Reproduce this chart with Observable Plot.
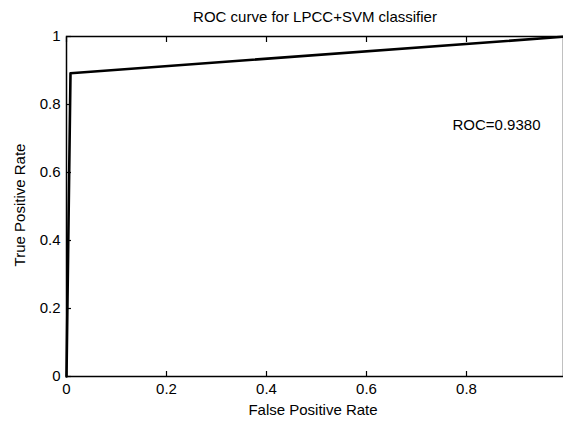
<!DOCTYPE html>
<html>
<head>
<meta charset="utf-8">
<script src="https://cdn.jsdelivr.net/npm/d3@7"></script>
<script src="https://cdn.jsdelivr.net/npm/@observablehq/plot@0.6"></script>
<style>
  html, body { margin: 0; padding: 0; background: #fff; }
  #chart { width: 563px; height: 422px; }
  svg { font-family: "Liberation Sans", Arial, sans-serif; }
</style>
</head>
<body>
<div id="chart"></div>
<script>
// ROC curve points
const fpr = [0, 0.008, 1.0];
const tpr = [0, 0.892, 1.0];
const xTicks = [0, 0.2, 0.4, 0.6, 0.8];
const yTicks = [0, 0.2, 0.4, 0.6, 0.8, 1];
const titleText = "ROC curve for LPCC+SVM classifier";
const xLabel = "False Positive Rate";
const yLabel = "True Positive Rate";
const rocLabel = "ROC=0.9380";
const rocLabelPos = [0.948, 0.74];

const data = fpr.map((x, i) => ({x, y: tpr[i]}));
const FS = 15;

const chart = Plot.plot({
  width: 563,
  height: 422,
  marginLeft: 66,
  marginTop: 36,
  marginBottom: 46,
  marginRight: 0,
  style: {fontSize: FS + "px", fontFamily: "Liberation Sans, Arial, sans-serif", color: "#000", background: "#fff"},
  x: {domain: [0, 0.994]},
  y: {domain: [0, 1]},
  marks: [
    // inward ticks
    Plot.axisX({anchor: "bottom", ticks: xTicks, tickSize: -5, tickFormat: () => "", stroke: "#000", strokeWidth: 1.2, label: null}),
    Plot.axisX({anchor: "top", ticks: xTicks, tickSize: -5, tickFormat: () => "", stroke: "#000", strokeWidth: 1.2, label: null}),
    Plot.axisY({anchor: "left", ticks: yTicks, tickSize: -5, tickFormat: () => "", stroke: "#000", strokeWidth: 1.2, label: null}),
    // labels
    Plot.axisX({anchor: "bottom", ticks: xTicks, tickSize: 0, tickPadding: 7, tickFormat: d => String(d), fill: "#000", label: null}),
    Plot.axisY({anchor: "left", ticks: yTicks, tickSize: 0, tickPadding: 6, tickFormat: d => String(d), fill: "#000", label: null}),
    Plot.frame({stroke: "#000", strokeWidth: 1.5}),
    Plot.line(data, {x: "x", y: "y", stroke: "#000", strokeWidth: 2.6, clip: false}),
    Plot.text([rocLabel], {x: () => rocLabelPos[0], y: () => rocLabelPos[1], text: d => d, textAnchor: "end", fill: "#000", fontSize: FS})
  ]
});

// title & axis labels as real SVG text
const svg = d3.select(chart);
svg.append("text").attr("x", 315).attr("y", 18).attr("text-anchor", "middle").attr("dominant-baseline", "middle")
  .attr("font-size", FS).attr("fill", "#000").text(titleText);
svg.append("text").attr("x", 313).attr("y", 411).attr("text-anchor", "middle").attr("dominant-baseline", "middle")
  .attr("font-size", FS).attr("fill", "#000").text(xLabel);
svg.append("text").attr("transform", "translate(21,205) rotate(-90)").attr("text-anchor", "middle").attr("dominant-baseline", "middle")
  .attr("font-size", FS).attr("fill", "#000").text(yLabel);

document.getElementById("chart").appendChild(chart);
</script>
</body>
</html>
